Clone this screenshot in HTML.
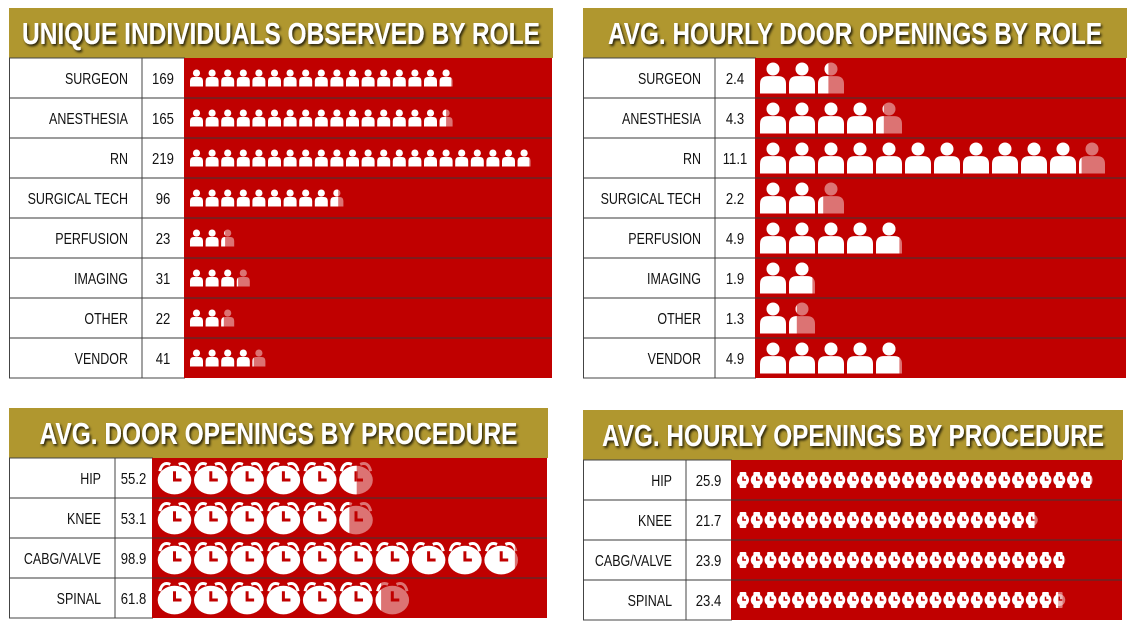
<!DOCTYPE html>
<html><head><meta charset="utf-8"><style>
html,body{margin:0;padding:0;background:#fff;}
svg{display:block;}
.title{font-family:"Liberation Sans Narrow","Liberation Sans",sans-serif;font-weight:bold;fill:#fff;}
.lbl{font-family:"Liberation Sans",sans-serif;fill:#111;font-size:16px;}
</style></head><body>
<svg id="s" width="1131" height="630" viewBox="0 0 1131 630" xmlns="http://www.w3.org/2000/svg">
<defs><filter id="sh" x="-5%" y="-20%" width="110%" height="150%"><feDropShadow dx="1.5" dy="2" stdDeviation="1.2" flood-color="#000" flood-opacity="0.8"/></filter></defs>
</svg>
<script>
const roleCats = ["SURGEON","ANESTHESIA","RN","SURGICAL TECH","PERFUSION","IMAGING","OTHER","VENDOR"];
const uniqueIndividuals = [169,165,219,96,23,31,22,41];
const hourlyDoorOpenings = [2.4,4.3,11.1,2.2,4.9,1.9,1.3,4.9];
const procCats = ["HIP","KNEE","CABG/VALVE","SPINAL"];
const doorOpeningsProc = [55.2,53.1,98.9,61.8];
const hourlyOpeningsProc = [25.9,21.7,23.9,23.4];

const NS="http://www.w3.org/2000/svg";
const svg=document.getElementById('s');
let clipId=0;
function el(tag,attrs,parent){const e=document.createElementNS(NS,tag);for(const k in attrs)e.setAttribute(k,attrs[k]);(parent||svg).appendChild(e);return e;}
const RED="#c00000";

function person(g,x,top,w,h,fill){
  const r=h*0.21;
  el('circle',{cx:x+w/2,cy:top+r,r:r,fill:fill},g);
  const by=top+h*0.44, rr=w*0.3;
  el('path',{d:`M${x},${top+h} L${x},${by+rr} Q${x},${by} ${x+rr},${by} L${x+w-rr},${by} Q${x+w},${by} ${x+w},${by+rr} L${x+w},${top+h} Z`,fill:fill},g);
}
function clock(g,x,top,w,h,fill){
  const cx=x+w/2, cy=top+h*0.56;
  el('path',{d:`M${x+w*0.08},${top+h*0.3} Q${x+w*0.15},${top} ${x+w*0.38},${top+h*0.1}`,stroke:fill,'stroke-width':3,fill:'none'},g);
  el('path',{d:`M${x+w*0.92},${top+h*0.3} Q${x+w*0.85},${top} ${x+w*0.62},${top+h*0.1}`,stroke:fill,'stroke-width':3,fill:'none'},g);
  el('ellipse',{cx:cx,cy:cy,rx:w*0.48,ry:h*0.42,fill:fill},g);
  el('path',{d:`M${cx},${cy-h*0.26} L${cx},${cy} L${cx+w*0.2},${cy}`,stroke:RED,'stroke-width':3,fill:'none'},g);
}
function watch(g,x,top,w,h,fill){
  const cx=x+w/2, cy=top+h/2;
  el('rect',{x:x+w*0.22,y:top,width:w*0.56,height:h,rx:1,fill:fill},g);
  el('circle',{cx:cx,cy:cy,r:w*0.5,fill:fill},g);
  el('path',{d:`M${cx},${cy-w*0.28} L${cx},${cy} L${cx+w*0.25},${cy}`,stroke:RED,'stroke-width':1.5,fill:'none'},g);
}

function panel(p){
  const g=el('g',{});
  
  
  const hdr=el('rect',{x:p.x,y:p.y,width:p.w,height:p.hh,fill:"#b0972f"},g);
  
  
  const t=el('text',{x:p.x+p.w/2,y:p.y+p.hh/2+11,'text-anchor':'middle','font-size':31,class:'title',filter:'url(#sh)',textLength:p.tl,lengthAdjust:'spacingAndGlyphs'},g);
  t.textContent=p.title;
  
  
  const ty=p.y+p.hh, n=p.cats.length, th=n*p.rh;
  el('rect',{x:p.x+0.5,y:ty,width:p.c2-p.x,height:th,fill:'#fff',stroke:'#444'},g);
  el('rect',{x:p.c2,y:ty,width:p.x+p.w-p.c2-1,height:th,fill:RED},g);
  el('line',{x1:p.c1,y1:ty,x2:p.c1,y2:ty+th,stroke:'#444'},g);
  for(let i=0;i<n;i++){
    const ry=ty+i*p.rh;
    if(i>0) el('line',{x1:p.x,y1:ry,x2:p.x+p.w-1,y2:ry,stroke:'#3a3a3a','stroke-width':1},g);
    const l=el('text',{transform:`translate(${p.c1-14},${ry+p.rh/2+6}) scale(0.78,1)`,'text-anchor':'end',class:'lbl'},g);
    l.textContent=p.cats[i];
    
    
    const v=el('text',{transform:`translate(${(p.c1+p.c2)/2},${ry+p.rh/2+6}) scale(0.82,1)`,'text-anchor':'middle',class:'lbl'},g);
    v.textContent=p.vals[i];
    
    
    const bar=el('g',{},g);
    
    
    const units=p.vals[i]/p.unit, full=Math.floor(units), frac=units-full;
    const top=ry+(p.rh-p.ih)/2;
    for(let k=0;k<full;k++) p.icon(bar,p.sx+k*p.pitch,top,p.iw,p.ih,'#fff');
    if(frac>0.001){
      const xx=p.sx+full*p.pitch;
      p.icon(bar,xx,top,p.iw,p.ih,'rgba(255,255,255,0.45)');
      const id='c'+(clipId++);
      const cp=el('clipPath',{id:id},svg);
      el('rect',{x:xx-3,y:top-3,width:3+p.iw*frac,height:p.ih+6},cp);
      const cg=el('g',{'clip-path':`url(#${id})`},bar);
      p.icon(cg,xx,top,p.iw,p.ih,'#fff');
    }
  }
}

panel({name:'unique-individuals-panel',title:'UNIQUE INDIVIDUALS OBSERVED BY ROLE',tl:518,x:9,y:8,w:544,hh:50,rh:40,c1:142,c2:184,cats:roleCats,vals:uniqueIndividuals,unit:10,icon:person,sx:190,pitch:15.6,iw:13,ih:17});
panel({name:'hourly-door-openings-role-panel',title:'AVG. HOURLY DOOR OPENINGS BY ROLE',tl:494,x:583,y:8,w:544,hh:50,rh:40,c1:715,c2:755,cats:roleCats,vals:hourlyDoorOpenings,unit:1,icon:person,sx:760,pitch:29,iw:26,ih:31});
panel({name:'door-openings-procedure-panel',title:'AVG. DOOR OPENINGS BY PROCEDURE',tl:478,x:9,y:408,w:539,hh:50,rh:40,c1:115,c2:152,cats:procCats,vals:doorOpeningsProc,unit:10,icon:clock,sx:157,pitch:36.3,iw:35,ih:34});
panel({name:'hourly-openings-procedure-panel',title:'AVG. HOURLY OPENINGS BY PROCEDURE',tl:502,x:583,y:410,w:540,hh:50,rh:40,c1:686,c2:731,cats:procCats,vals:hourlyOpeningsProc,unit:1,icon:watch,sx:737,pitch:13.75,iw:12,ih:16});
</script>
</body></html>
